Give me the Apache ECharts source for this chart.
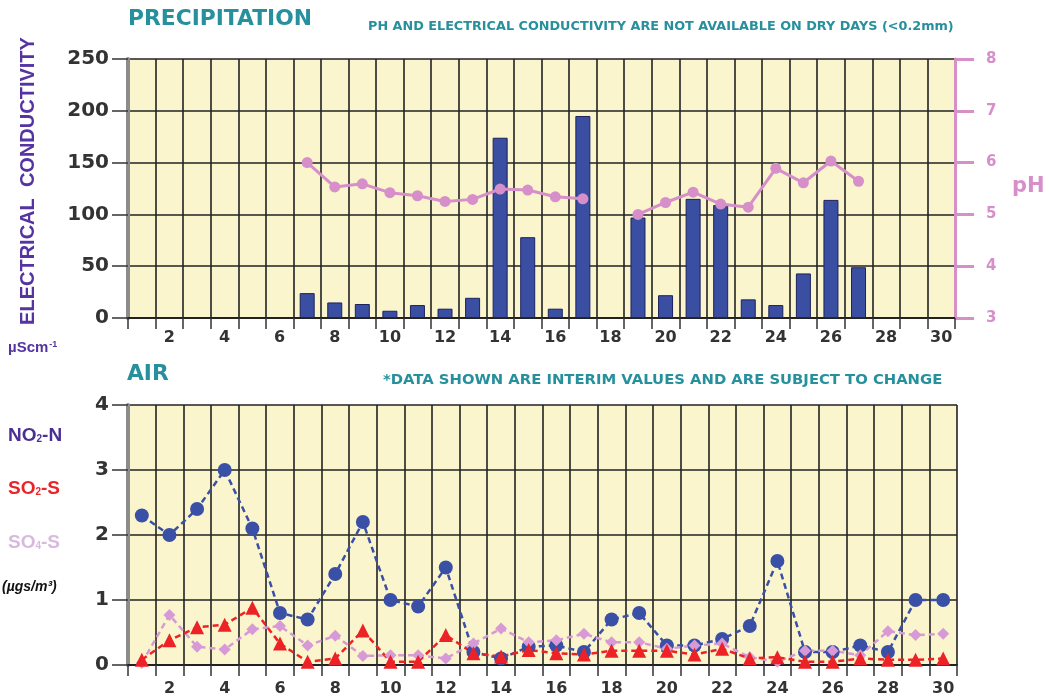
<!DOCTYPE html>
<html>
<head>
<meta charset="utf-8">
<title>Precipitation and Air</title>
<script src="https://cdn.jsdelivr.net/npm/echarts@6/dist/echarts.min.js"></script>
<style>
  html, body { margin: 0; padding: 0; background: #fff; }
  #chart { width: 1049px; height: 697px; }
</style>
</head>
<body>
<div id="chart"></div>
<script>
// days of the month
const days = Array.from({ length: 30 }, (_, i) => String(i + 1))

// precipitation: electrical conductivity (µScm-1), null = dry day
const conductivity = [null, null, null, null, null, null, 24, 15, 13.5, 7, 12.5, 9, 19.5, 174, 78, 9, 195, null, 97, 22, 115, 109, 18, 12.5, 43, 114, 49, null, null, null]
// precipitation: pH
const ph = [null, null, null, null, null, null, 6.0, 5.53, 5.59, 5.42, 5.36, 5.25, 5.29, 5.49, 5.47, 5.34, 5.30, null, 5.0, 5.23, 5.43, 5.2, 5.14, 5.89, 5.61, 6.03, 5.64, null, null, null]

// air (µgs/m3)
const no2n = [2.3, 2.0, 2.4, 3.0, 2.1, 0.8, 0.7, 1.4, 2.2, 1.0, 0.9, 1.5, 0.2, 0.1, 0.28, 0.3, 0.2, 0.7, 0.8, 0.3, 0.3, 0.4, 0.6, 1.6, 0.2, 0.2, 0.3, 0.2, 1.0, 1.0]
const so2s = [0.08, 0.38, 0.58, 0.62, 0.88, 0.33, 0.05, 0.1, 0.53, 0.05, 0.05, 0.46, 0.18, 0.13, 0.23, 0.18, 0.16, 0.22, 0.22, 0.22, 0.16, 0.25, 0.1, 0.12, 0.05, 0.05, 0.1, 0.08, 0.08, 0.1]
const so4s = [0.03, 0.77, 0.28, 0.24, 0.55, 0.6, 0.3, 0.45, 0.14, 0.15, 0.15, 0.1, 0.33, 0.56, 0.35, 0.38, 0.48, 0.35, 0.35, 0.25, 0.3, 0.33, 0.12, 0.05, 0.22, 0.22, 0.15, 0.52, 0.46, 0.48]

const ecTicks = [0, 50, 100, 150, 200, 250]
const phTicks = [3, 4, 5, 6, 7, 8]
const airTicks = [0, 1, 2, 3, 4]

const teal = '#26909c'
const pink = '#d68fc9'
const bg = '#faf5cd'
const numFont = 'DejaVu Sans'

const setXAxis = (gridIndex, margin) => ({
  type: 'category',
  gridIndex,
  data: days,
  boundaryGap: true,
  axisLine: { show: true, lineStyle: { color: '#222', width: 2 } },
  axisTick: { show: true, interval: 0, length: 11, lineStyle: { color: '#333', width: 1.5 } },
  axisLabel: {
    interval: (index) => (index + 1) % 2 === 0,
    margin,
    color: '#333',
    fontFamily: numFont,
    fontWeight: 'bold',
    fontSize: 16,
  },
  splitLine: { show: true, interval: 0, lineStyle: { color: '#222', width: 1.6 } },
})

const setYAxis = (gridIndex, ticks) => ({
  type: 'value',
  gridIndex,
  min: ticks[0],
  max: ticks[ticks.length - 1],
  interval: ticks[1] - ticks[0],
  axisLine: { show: true, lineStyle: { color: '#8c8c8c', width: 4 } },
  axisTick: { show: true, length: 16, lineStyle: { color: '#333', width: 1.5 } },
  axisLabel: { margin: 19, color: '#333', fontFamily: numFont, fontWeight: 'bold', fontSize: 20 },
  splitLine: { show: true, lineStyle: { color: '#222', width: 1.6 } },
})

// small subscript helper for the gas labels
const gasLabel = (text, color) => ({
  text,
  rich: {
    a: { fontFamily: 'Liberation Sans', fontWeight: 'bold', fontSize: 19, fill: color },
    b: { fontFamily: 'Liberation Sans', fontWeight: 'bold', fontSize: 10, fill: color, padding: [8, 0, 0, 0] },
  },
})

const chart = echarts.init(document.getElementById('chart'))

const option = {
  animation: false,
  backgroundColor: '#fff',
  grid: [
    { left: 128, right: 94, top: 59, height: 259, show: true, backgroundColor: bg, borderWidth: 0 },
    { left: 128, right: 92, top: 405, height: 260, show: true, backgroundColor: bg, borderWidth: 0 },
  ],
  xAxis: [setXAxis(0, 12), setXAxis(1, 16)],
  yAxis: [
    setYAxis(0, ecTicks),
    {
      type: 'value',
      gridIndex: 0,
      position: 'right',
      min: phTicks[0],
      max: phTicks[phTicks.length - 1],
      interval: 1,
      axisLine: { show: true, lineStyle: { color: pink, width: 3 } },
      axisTick: { show: true, length: 19, lineStyle: { color: pink, width: 3 } },
      axisLabel: { margin: 31, color: pink, fontFamily: numFont, fontWeight: 'bold', fontSize: 15 },
      splitLine: { show: false },
    },
    setYAxis(1, airTicks),
  ],
  series: [
    {
      name: 'Electrical conductivity',
      type: 'bar',
      xAxisIndex: 0,
      yAxisIndex: 0,
      barWidth: 15,
      itemStyle: { color: '#3a4ea2', borderColor: '#1c2260', borderWidth: 1 },
      data: conductivity,
    },
    {
      name: 'pH',
      type: 'line',
      xAxisIndex: 0,
      yAxisIndex: 1,
      symbol: 'circle',
      symbolSize: 11,
      connectNulls: false,
      lineStyle: { color: pink, width: 3 },
      itemStyle: { color: pink },
      data: ph,
    },
    {
      name: 'NO2-N',
      type: 'line',
      xAxisIndex: 1,
      yAxisIndex: 2,
      symbol: 'circle',
      symbolSize: 14,
      lineStyle: { color: '#3a4fa6', width: 2.5, type: [6, 4] },
      itemStyle: { color: '#3a4fa6' },
      data: no2n,
    },
    {
      name: 'SO4-S',
      type: 'line',
      xAxisIndex: 1,
      yAxisIndex: 2,
      symbol: 'diamond',
      symbolSize: 12,
      lineStyle: { color: '#d89ad6', width: 2.5, type: [6, 4] },
      itemStyle: { color: '#d89ad6' },
      data: so4s,
    },
    {
      name: 'SO2-S',
      type: 'line',
      xAxisIndex: 1,
      yAxisIndex: 2,
      symbol: 'triangle',
      symbolSize: 14,
      lineStyle: { color: '#ec2226', width: 2.5, type: [6, 4] },
      itemStyle: { color: '#ec2226' },
      data: so2s,
    },
  ],
  graphic: [
    { type: 'text', left: 128, top: 8, style: { text: 'PRECIPITATION', fill: teal, font: 'bold 21.8px "DejaVu Sans"' } },
    { type: 'text', left: 368, top: 20, style: { text: 'PH AND ELECTRICAL CONDUCTIVITY ARE NOT AVAILABLE ON DRY DAYS (<0.2mm)', fill: teal, font: 'bold 12.8px "DejaVu Sans"' } },
    {
      type: 'text',
      x: 28,
      y: 181,
      rotation: Math.PI / 2,
      style: { text: 'ELECTRICAL  CONDUCTIVITY', fill: '#5533a3', font: 'bold 20px "Liberation Sans"', align: 'center', verticalAlign: 'middle' },
    },
    {
      type: 'text',
      left: 8,
      top: 340,
      style: {
        text: '{a|µScm}{b|-1}',
        rich: {
          a: { fontFamily: 'Liberation Sans', fontWeight: 'bold', fontSize: 15, fill: '#5533a3' },
          b: { fontFamily: 'Liberation Sans', fontWeight: 'bold', fontSize: 9, fill: '#5533a3', padding: [0, 0, 6, 1] },
        },
      },
    },
    { type: 'text', left: 127, top: 363, style: { text: 'AIR', fill: teal, font: 'bold 21.8px "DejaVu Sans"' } },
    { type: 'text', left: 383, top: 373, style: { text: '*DATA SHOWN ARE INTERIM VALUES AND ARE SUBJECT TO CHANGE', fill: teal, font: 'bold 14.8px "DejaVu Sans"' } },
    { type: 'text', left: 8, top: 426, style: gasLabel('{a|NO}{b|2}{a|-N}', '#4a2f95') },
    { type: 'text', left: 8, top: 479, style: gasLabel('{a|SO}{b|2}{a|-S}', '#ea2529') },
    { type: 'text', left: 8, top: 533, style: gasLabel('{a|SO}{b|4}{a|-S}', '#d8bade') },
    { type: 'text', left: 2, top: 580, style: { text: '(µgs/m³)', fill: '#111', font: 'italic bold 14px "Liberation Sans"' } },
    { type: 'text', left: 1012, top: 176, style: { text: 'pH', fill: pink, font: 'bold 21px "DejaVu Sans"' } },
  ],
}

option && chart.setOption(option)
</script>
</body>
</html>
